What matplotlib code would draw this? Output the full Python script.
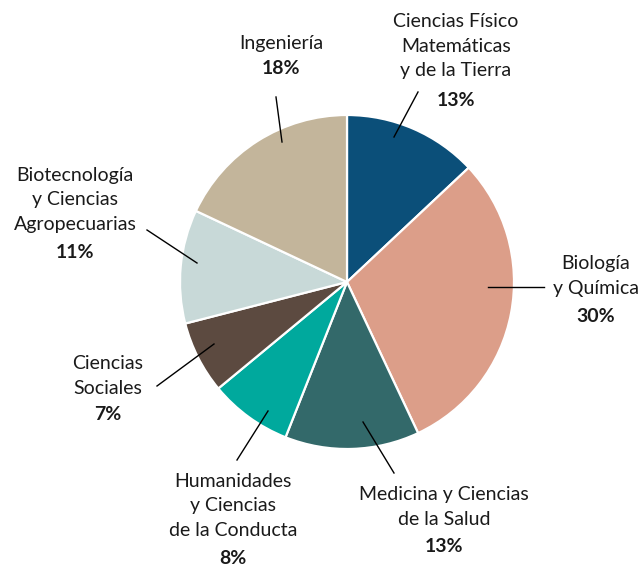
import matplotlib
matplotlib.use("Agg")
import matplotlib.pyplot as plt

categories = ["Ciencias Físico\nMatemáticas\ny de la Tierra", "Biología\ny Química",
              "Medicina y Ciencias\nde la Salud", "Humanidades\ny Ciencias\nde la Conducta",
              "Ciencias\nSociales", "Biotecnología\ny Ciencias\nAgropecuarias", "Ingeniería"]
values = [13, 30, 13, 8, 7, 11, 18]
colors = ["#0b4f79", "#dc9e89", "#33696a", "#00a99d", "#5c4a40", "#c8d9d8", "#c3b59b"]

W, H = 640, 567
fig = plt.figure(figsize=(W / 100, H / 100), dpi=100)
ax = fig.add_axes([0, 0, 1, 1])
ax.set_xlim(0, W)
ax.set_ylim(0, H)
ax.axis("off")

def Y(py):
    return H - py

ax.pie(values, colors=colors, startangle=90, counterclock=False,
       center=(347, Y(282)), radius=167,
       wedgeprops=dict(edgecolor="white", linewidth=1.6))
ax.set_aspect("equal")
ax.set_xlim(0, W)
ax.set_ylim(0, H)

# label layout: (name centre x, name centre y, pct y, leader start, leader end)
layout = [
    (456, 46, 100, (394, 137), (418, 92)),
    (596, 276, 316, (488, 287), (544, 287)),
    (444, 507, 547, (363, 422), (394, 473)),
    (233, 506, 558, (268, 411), (237, 460)),
    (108, 376, 414, (214, 344), (157, 386)),
    (75, 200, 253, (197, 263), (147, 230)),
    (281, 43, 69, (282, 142), (276, 97)),
]

font = ["Lato", "DejaVu Sans"]
fs = 14
for cat, v, (tx, ty, py, p0, p1) in zip(categories, values, layout):
    ax.text(tx, Y(ty), cat, ha="center", va="center", fontsize=fs,
            family=font, color="#1a1a1a", linespacing=1.55)
    ax.text(tx, Y(py), f"{v}%", ha="center", va="center", fontsize=fs,
            family=font, fontweight="bold", color="#1a1a1a")
    ax.plot([p0[0], p1[0]], [Y(p0[1]), Y(p1[1])], color="black", lw=1.0)

fig.savefig("out.png", dpi=100)
